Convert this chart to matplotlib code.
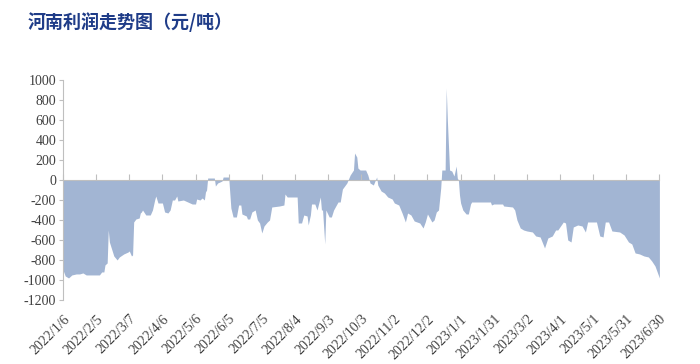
import numpy as np
import pandas as pd
import matplotlib
matplotlib.use('Agg')
import matplotlib.pyplot as plt

serif = 'Liberation Serif'

# profit readings (yuan/ton)
dates = ['2022-01-06', '2022-01-08', '2022-01-11', '2022-01-14', '2022-01-18', '2022-01-21',
         '2022-01-24', '2022-01-27', '2022-02-08', '2022-02-10', '2022-02-12', '2022-02-13',
         '2022-02-15', '2022-02-16', '2022-02-17', '2022-02-21', '2022-02-24', '2022-02-26',
         '2022-03-02', '2022-03-06', '2022-03-07', '2022-03-09', '2022-03-10', '2022-03-11',
         '2022-03-13', '2022-03-16', '2022-03-17', '2022-03-18', '2022-03-19', '2022-03-22',
         '2022-03-26', '2022-03-28', '2022-03-30', '2022-03-31', '2022-04-02', '2022-04-06',
         '2022-04-08', '2022-04-11', '2022-04-13', '2022-04-15', '2022-04-17', '2022-04-19',
         '2022-04-20', '2022-04-25', '2022-04-29', '2022-05-03', '2022-05-06', '2022-05-07',
         '2022-05-10', '2022-05-12', '2022-05-14', '2022-05-15', '2022-05-16', '2022-05-17',
         '2022-05-23', '2022-05-24', '2022-05-26', '2022-05-30', '2022-05-31', '2022-06-05',
         '2022-06-07', '2022-06-09', '2022-06-12', '2022-06-14', '2022-06-16', '2022-06-17',
         '2022-06-21', '2022-06-22', '2022-06-24', '2022-06-26', '2022-06-29', '2022-07-01',
         '2022-07-03', '2022-07-05', '2022-07-07', '2022-07-10', '2022-07-12', '2022-07-14',
         '2022-07-21', '2022-07-25', '2022-07-26', '2022-07-28', '2022-08-06', '2022-08-07',
         '2022-08-10', '2022-08-12', '2022-08-15', '2022-08-16', '2022-08-18', '2022-08-19',
         '2022-08-22', '2022-08-24', '2022-08-27', '2022-08-28', '2022-08-29', '2022-08-31',
         '2022-09-01', '2022-09-04', '2022-09-06', '2022-09-08', '2022-09-12', '2022-09-14',
         '2022-09-16', '2022-09-20', '2022-09-23', '2022-09-26', '2022-09-27', '2022-09-29',
         '2022-09-30', '2022-10-02', '2022-10-07', '2022-10-09', '2022-10-11', '2022-10-14',
         '2022-10-17', '2022-10-18', '2022-10-21', '2022-10-24', '2022-10-27', '2022-10-31',
         '2022-11-02', '2022-11-06', '2022-11-09', '2022-11-12', '2022-11-14', '2022-11-17',
         '2022-11-20', '2022-11-25', '2022-11-28', '2022-11-30', '2022-12-02', '2022-12-06',
         '2022-12-08', '2022-12-10', '2022-12-12', '2022-12-14', '2022-12-15', '2022-12-18',
         '2022-12-19', '2022-12-20', '2022-12-22', '2022-12-24', '2022-12-26', '2022-12-28',
         '2022-12-29', '2022-12-30', '2022-12-31', '2023-01-01', '2023-01-03', '2023-01-06',
         '2023-01-08', '2023-01-10', '2023-01-11', '2023-01-28', '2023-01-29', '2023-01-31',
         '2023-02-08', '2023-02-09', '2023-02-17', '2023-02-19', '2023-02-21', '2023-02-24',
         '2023-02-27', '2023-03-02', '2023-03-07', '2023-03-10', '2023-03-14', '2023-03-18',
         '2023-03-21', '2023-03-25', '2023-03-28', '2023-03-30', '2023-04-04', '2023-04-06',
         '2023-04-08', '2023-04-11', '2023-04-13', '2023-04-17', '2023-04-21', '2023-04-24',
         '2023-04-26', '2023-05-04', '2023-05-07', '2023-05-10', '2023-05-12', '2023-05-15',
         '2023-05-18', '2023-05-25', '2023-05-29', '2023-06-02', '2023-06-05', '2023-06-08',
         '2023-06-12', '2023-06-16', '2023-06-20', '2023-06-23', '2023-06-26', '2023-06-30']

profit = [-900, -960, -980, -950, -940, -940,
          -930, -950, -950, -920, -920, -850,
          -830, -500, -620, -760, -800, -770,
          -740, -720, -710, -760, -750, -420,
          -390, -380, -330, -320, -300, -350,
          -350, -300, -200, -160, -230, -230,
          -320, -330, -300, -200, -200, -160,
          -210, -200, -220, -240, -240, -190,
          -200, -180, -200, -120, -100, 20,
          20, -60, -30, -10, 30, 30,
          -280, -370, -370, -250, -250, -340,
          -360, -390, -390, -320, -300, -400,
          -430, -530, -460, -420, -400, -270,
          -260, -250, -140, -170, -170, -430,
          -430, -350, -360, -450, -350, -240,
          -240, -300, -170, -300, -300, -640,
          -300, -370, -370, -300, -220, -220,
          -90, -30, 50, 100, 270, 230,
          120, 100, 100, 50, -30, -50,
          30, -50, -110, -130, -170, -190,
          -230, -250, -330, -420, -330, -350,
          -410, -430, -480, -420, -340, -420,
          -400, -320, -300, -80, 100, 100,
          920, 600, 100, 90, 40, 140,
          20, 0, -150, -230, -300, -340,
          -340, -240, -220, -220, -250, -240,
          -240, -260, -270, -300, -400, -480,
          -500, -510, -520, -560, -570, -680,
          -580, -560, -500, -500, -420, -430,
          -600, -620, -470, -450, -460, -520,
          -420, -420, -560, -570, -420, -420,
          -510, -520, -550, -620, -640, -730,
          -740, -760, -770, -810, -860, -980]

title = '河南利润走势图（元/吨）'
yticks = list(range(-1200, 1001, 200))
start, end = pd.Timestamp('2022-01-06'), pd.Timestamp('2023-06-30')
xticks = pd.date_range(start, end, freq='30D')

x = pd.to_datetime(dates)
y = np.array(profit)

fig = plt.figure(figsize=(7, 3.64), dpi=100)
ax = fig.add_axes([0.09, 0.176, 0.852, 0.604])
ax.fill_between(x, y, 0, color='#a2b5d3', linewidth=0)

ax.set_xlim(start, end)
ax.set_ylim(-1200, 1000)
ax.set_yticks(yticks)
ax.set_yticklabels([str(v) for v in yticks], fontsize=10, color='#404040', family=serif)
ax.tick_params(axis='y', length=3, color='#bfbfbf', pad=2)

# zero line carries the tick marks, labels sit at the bottom
ax.spines['bottom'].set_position(('data', 0))
ax.spines['bottom'].set_color('#bfbfbf')
ax.set_xticks(xticks)
ax.tick_params(axis='x', direction='in', length=4, color='#bfbfbf', labelbottom=False)

lab = ax.secondary_xaxis('bottom')
lab.set_xticks(xticks)
lab.set_xticklabels([f'{d.year}/{d.month}/{d.day}' for d in xticks],
                    rotation=45, ha='right', va='top', rotation_mode='anchor',
                    fontsize=10, color='#404040', family=serif)
lab.tick_params(axis='x', length=0, pad=9)
lab.spines['bottom'].set_visible(False)

for s in ['top', 'right']:
    ax.spines[s].set_visible(False)
ax.spines['left'].set_color('#bfbfbf')

fig.text(0.04, 0.94, title, fontsize=13, color='#1f3c88', fontweight='bold',
         family=['Noto Sans CJK SC', 'DejaVu Sans'], va='center', ha='left')

fig.savefig('out.png', dpi=100)
